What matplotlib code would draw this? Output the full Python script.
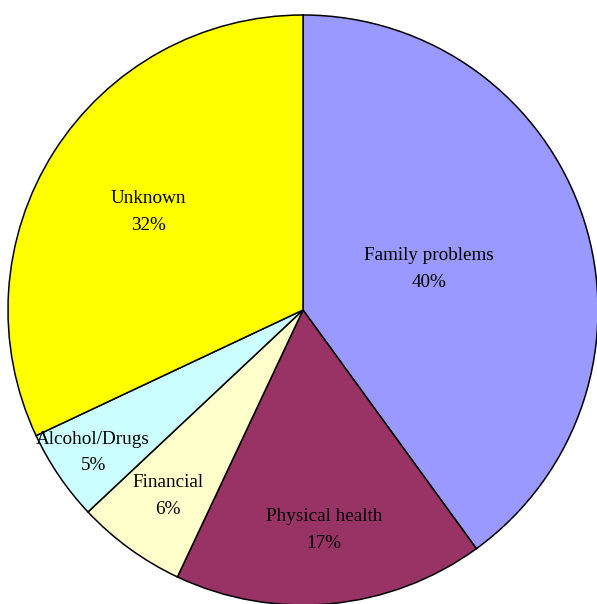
import numpy as np
import matplotlib.pyplot as plt

# reasons, in clockwise order from twelve o'clock
reasons = ["Family problems", "Physical health", "Financial", "Alcohol/Drugs", "Unknown"]
shares = [40, 17, 6, 5, 32]
colors = ["#9999FF", "#993366", "#FFFFCC", "#CCFFFF", "#FFFF00"]
# how far out each label sits, as a fraction of the radius
label_r = [0.45, 0.75, 0.78, 0.86, 0.62]

plt.rcParams['font.family'] = ['Liberation Serif', 'DejaVu Serif']

fig = plt.figure(figsize=(5.97, 6.04), dpi=100)
R = 295
cx, cy = 303, 604 - 310
ax = fig.add_axes([(cx - R) / 597, (cy - R) / 604, 2 * R / 597, 2 * R / 604])

wedges, _ = ax.pie(shares, colors=colors, startangle=90, counterclock=False,
                   radius=1.0, wedgeprops=dict(edgecolor="black", linewidth=1.1))

total = sum(shares)
start = 90.0
for name, v, r in zip(reasons, shares, label_r):
    sweep = 360.0 * v / total
    mid = np.deg2rad(start - sweep / 2)
    start -= sweep
    x, y = r * np.cos(mid), r * np.sin(mid)
    ax.text(x, y + 0.045, name, ha="center", va="center", fontsize=13.8)
    ax.text(x, y - 0.045, f"{v}%", ha="center", va="center", fontsize=13.8)

ax.set_xlim(-1, 1)
ax.set_ylim(-1, 1)
ax.set_aspect("equal")
ax.axis("off")

fig.savefig("out.png", dpi=100)
